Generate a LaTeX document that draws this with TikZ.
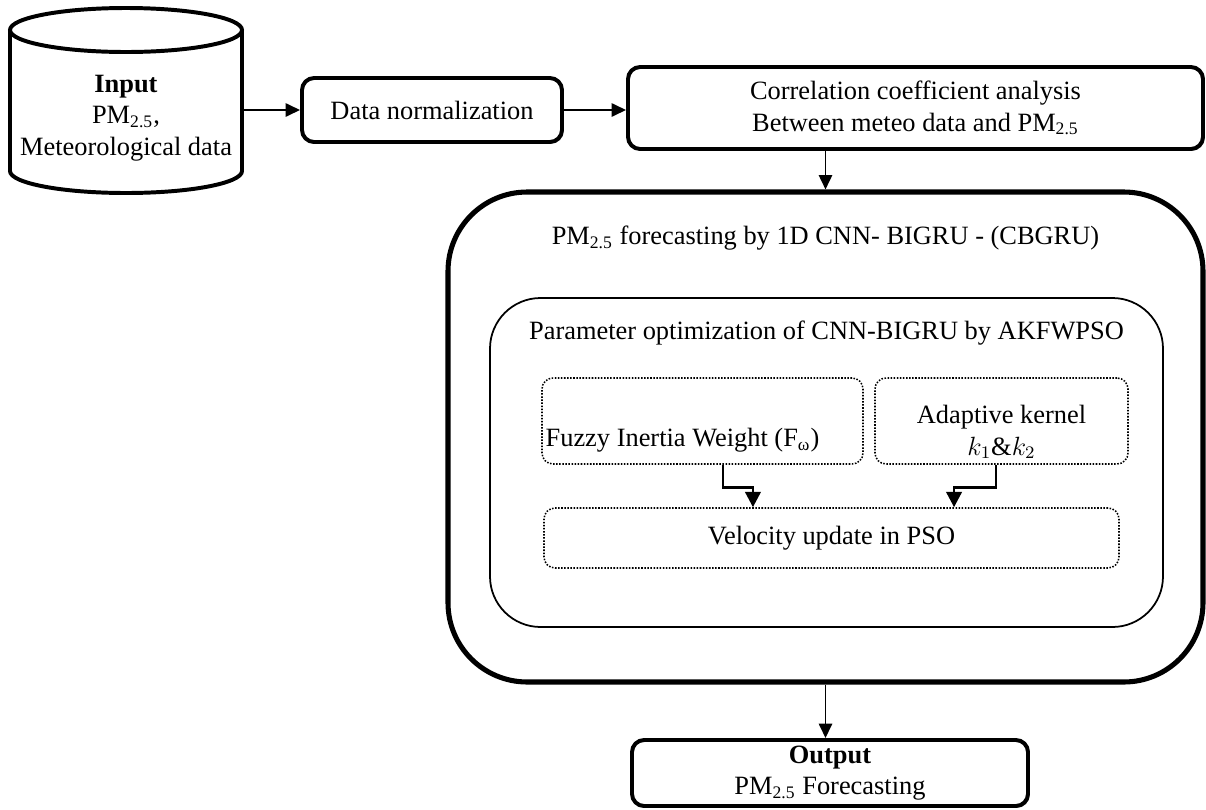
\documentclass[tikz,border=0pt]{standalone}
\usepackage{fontspec}
\setmainfont{Liberation Serif}
\usetikzlibrary{arrows.meta,calc,shadows}
\newdimen\pxu \pxu=0.4545pt
\begin{document}
\begin{tikzpicture}[x=0.4545pt, y=-0.4545pt, font=\fontsize{12}{14.4}\selectfont,
  sz/.style 2 args={minimum width=#1*\pxu, minimum height=#2*\pxu},
  shad/.style={drop shadow={shadow xshift=0.7pt, shadow yshift=-0.7pt, fill=black, opacity=0.45}},
  tbox/.style={draw, fill=white, line width=1.8pt, rounded corners=5.5pt, align=center, inner sep=0pt, shad},
  bigbox/.style={draw, fill=white, line width=2.3pt, rounded corners=36pt, inner sep=0pt, shad},
  innerbox/.style={draw, line width=0.8pt, rounded corners=23pt, inner sep=0pt},
  dbox/.style={draw, line width=0.7pt, dash pattern=on 0.7pt off 0.7pt, rounded corners=5pt, inner sep=0pt, align=center},
  cyl/.style={line width=1.8pt},
  arr/.style={-{Triangle[length=6.5pt,width=6pt]}, line width=0.9pt},
  arrb/.style={-{Triangle[length=7pt,width=7pt]}, line width=1.3pt},
  txt/.style={inner sep=1pt, align=center}]
\useasboundingbox (0,0) rectangle (1206,810);
% input cylinder
\node[sz={232}{185}] (inp) at (126,101) {};
\draw[cyl] (10,30) -- (10,171) arc[start angle=180, end angle=360, x radius=116*\pxu, y radius=22*\pxu] -- (242,30);
\draw[cyl] (126,30) ellipse [x radius=116*\pxu, y radius=22*\pxu];
\node[txt] (inpt) at (126,118) {\textbf{Input}\\PM\textsubscript{2.5},\\Meteorological data};
% top row
\node[tbox, sz={260}{64}] (dn) at (432,110) {Data normalization};
\node[tbox, sz={575}{82}] (cor) at (915.5,108) {Correlation coefficient analysis\\Between meteo data and PM\textsubscript{2.5}};
% big box
\node[bigbox, sz={755}{490}] (big) at (825.5,437) {};
\node[txt] (bigt) at (825.5,238) {PM\textsubscript{2.5} forecasting by 1D CNN- BIGRU - (CBGRU)};
\node[innerbox, sz={673}{329}] (inr) at (826.5,462.5) {};
\node[txt] (inrt) at (826.5,333) {Parameter optimization of CNN-BIGRU by AKFWPSO};
\node[dbox, sz={321}{86}] (fz) at (702.5,421) {};
\node[txt, anchor=west] (fzt) at (543,440) {Fuzzy Inertia Weight (F\textsubscript{ω})};
\node[dbox, sz={253}{86}] (ad) at (1001.5,421) {};
\node[txt] (adt) at (1001.5,432) {Adaptive kernel\\$k_1\&k_2$};
\node[dbox, sz={575}{60}] (vel) at (831.5,538) {Velocity update in PSO};
% output
\node[tbox, sz={396}{66}] (out) at (830,773) {\textbf{Output}\\PM\textsubscript{2.5} Forecasting};
% connectors
\draw[arr] (inp.east |- dn.west) -- (dn.west);
\draw[arr] (dn.east) -- (dn.east -| cor.west);
\draw[arr] (cor.south -| big.north) -- (big.north);
\draw[arr] (big.south) -- (big.south |- out.north);
\draw[arrb] ([xshift=9.3pt]fz.south) -- ++(0,23) -| ([xshift=-35.7pt]vel.north);
\draw[arrb] ([xshift=-2.5pt]ad.south) -- ++(0,23) -| ([xshift=55.7pt]vel.north);
\end{tikzpicture}
\end{document}
